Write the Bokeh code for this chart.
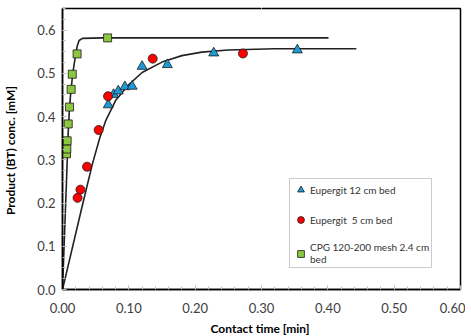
import numpy as np
from bokeh.plotting import figure
from bokeh.models import (FixedTicker, Range1d, Legend, LegendItem, CustomJSTickFormatter,
                          LinearAxis)
from bokeh.embed import file_html
from bokeh.resources import INLINE

# ---- data ----
eup12_x = [0.069, 0.077, 0.084, 0.094, 0.105, 0.120, 0.158, 0.228, 0.354]
eup12_y = [0.427, 0.451, 0.459, 0.469, 0.470, 0.516, 0.520, 0.547, 0.554]

eup5_x = [0.0227, 0.027, 0.037, 0.0545, 0.0687, 0.136, 0.272]
eup5_y = [0.212, 0.231, 0.284, 0.369, 0.447, 0.534, 0.546]

cpg_x = [0.006, 0.0065, 0.007, 0.0086, 0.0106, 0.013, 0.0147, 0.022, 0.068]
cpg_y = [0.314, 0.325, 0.344, 0.383, 0.422, 0.463, 0.498, 0.545, 0.582]

fit_eup_x = [0, 0.030, 0.045, 0.056, 0.065, 0.080, 0.100, 0.120, 0.150, 0.180, 0.210, 0.250, 0.320, 0.443]
fit_eup_y = [0, 0.195, 0.290, 0.350, 0.390, 0.437, 0.474, 0.502, 0.526, 0.541, 0.549, 0.554, 0.557, 0.557]

fit_cpg_x = [0, 0.006, 0.0085, 0.0105, 0.013, 0.016, 0.019, 0.022, 0.025, 0.030, 0.060, 0.401]
fit_cpg_y = [0, 0.250, 0.360, 0.420, 0.465, 0.505, 0.535, 0.562, 0.576, 0.581, 0.582, 0.582]

x_ticks = [0.0, 0.1, 0.2, 0.3, 0.4, 0.5, 0.6]
y_ticks = [0.0, 0.1, 0.2, 0.3, 0.4, 0.5, 0.6]

FONT = "Lato"

p = figure(width=465, height=338, output_backend="svg", toolbar_location=None,
           x_range=Range1d(0, 0.6), y_range=Range1d(0, 0.65))

xa = p.below[0]
ya = p.left[0]

# top axis drawn in white with no labels, used only to reserve a thin top margin
top_pad = LinearAxis(ticker=FixedTicker(ticks=[0.3], minor_ticks=[]), axis_line_color=None,
                     major_tick_out=8, major_tick_in=0, minor_tick_out=0, minor_tick_in=0,
                     major_tick_line_color="#ffffff", minor_tick_line_color=None,
                     major_label_standoff=0,
                     formatter=CustomJSTickFormatter(code="return '';"))
p.add_layout(top_pad, "above")

p.xgrid.visible = False
p.ygrid.visible = False
p.outline_line_color = "#000000"
p.outline_line_width = 1.5
p.background_fill_color = "white"
p.border_fill_color = "white"

p.line(fit_eup_x, fit_eup_y, line_color="#222222", line_width=1.6)
p.line(fit_cpg_x, fit_cpg_y, line_color="#222222", line_width=1.6)

r_tri = p.scatter(eup12_x, eup12_y, marker="triangle", size=10, fill_color="#1E9BD7",
                  line_color="#1a1a1a", line_width=0.8)
r_cir = p.scatter(eup5_x, eup5_y, marker="circle", size=9, fill_color="#FF0000",
                  line_color="#1a1a1a", line_width=0.8)
r_sq = p.scatter(cpg_x, cpg_y, marker="square", size=8, fill_color="#8DC63F",
                 line_color="#1a1a1a", line_width=0.8)

minor_x = [round(v, 3) for v in np.arange(0, 0.601, 0.02)]
minor_y = [round(v, 4) for v in np.arange(0, 0.651, 0.025)]
xa.ticker = FixedTicker(ticks=x_ticks, minor_ticks=minor_x)
ya.ticker = FixedTicker(ticks=y_ticks, minor_ticks=minor_y)
xa.formatter = CustomJSTickFormatter(code="return tick.toFixed(2);")
ya.formatter = CustomJSTickFormatter(code="return tick.toFixed(1);")

for ax in (xa, ya):
    ax.axis_line_color = "#000000"
    ax.axis_line_width = 1.5
    ax.major_tick_in = 4
    ax.major_tick_out = 0
    ax.minor_tick_in = 3
    ax.minor_tick_out = 0
    ax.major_tick_line_color = "#bbbbbb"
    ax.minor_tick_line_color = "#bbbbbb"
    ax.major_label_text_font = FONT
    ax.major_label_text_font_size = "13px"
    ax.major_label_text_color = "#404040"
    ax.axis_label_text_font = FONT
    ax.axis_label_text_font_style = "bold"
    ax.axis_label_text_font_size = "12px"
    ax.axis_label_text_color = "#000000"

xa.axis_label = "Contact time  [min]"
ya.axis_label = "Product (BT) conc.  [mM]"
xa.major_label_standoff = 13
ya.major_label_standoff = 7
xa.axis_label_standoff = 5
ya.axis_label_standoff = 16

legend = Legend(items=[
    LegendItem(label="Eupergit 12 cm bed", renderers=[r_tri]),
    LegendItem(label="Eupergit  5 cm bed", renderers=[r_cir]),
    LegendItem(label="CPG 120-200 mesh 2.4 cm\nbed", renderers=[r_sq]),
], location=(227, 21))
legend.label_text_font = FONT
legend.label_text_font_size = "10px"
legend.label_text_color = "#333333"
legend.glyph_width = 17
legend.glyph_height = 17
legend.label_height = 12
legend.label_standoff = 1
legend.spacing = 13
legend.padding = 2
legend.margin = 0
legend.border_line_color = "#999999"
legend.border_line_width = 1
legend.background_fill_alpha = 1
p.add_layout(legend, "center")

open("out.html", "w").write(file_html(p, INLINE))
